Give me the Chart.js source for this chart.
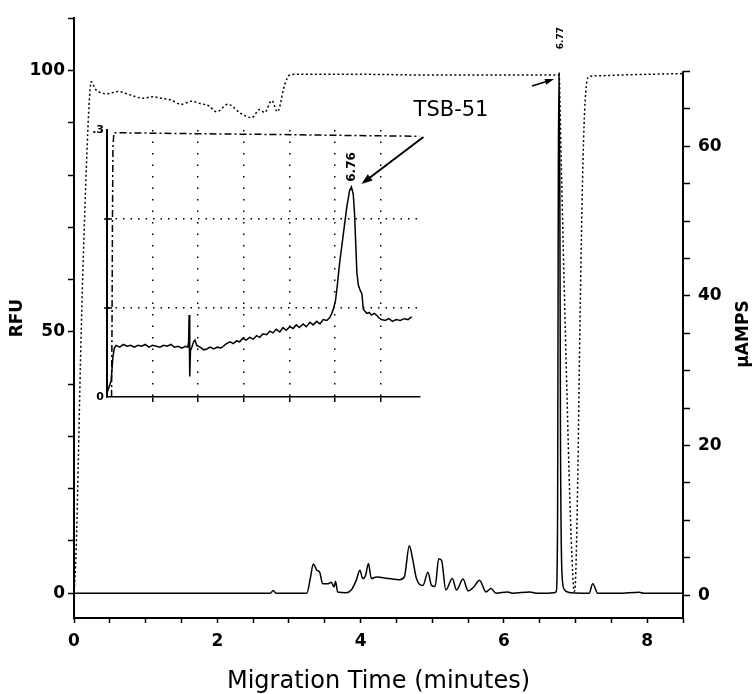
<!DOCTYPE html>
<html>
<head>
<meta charset="utf-8">
<script src="https://cdn.jsdelivr.net/npm/chart.js@4.4.1/dist/chart.umd.min.js"></script>
<style>
  body { margin: 0; background: #fff; }
  #wrap { position: relative; width: 755px; height: 694px; }
  #grafico { position: absolute; left: 0; top: 0; }
  #detalhe { position: absolute; left: 80px; top: 110px; }
</style>
</head>
<body>
<div id="wrap">
  <canvas id="grafico" width="755" height="694"></canvas>
  <canvas id="detalhe" width="350" height="300"></canvas>
</div>
<script>
// fluorescence trace (RFU) vs migration time (min)
const rfuTimes = [
  0, 1.0, 2.0, 2.74, 2.78, 2.82, 3.25, 3.30, 3.34, 3.39,
  3.43, 3.47, 3.54, 3.59, 3.63, 3.65, 3.68, 3.80, 3.87, 3.94,
  3.99, 4.03, 4.07, 4.11, 4.15, 4.22, 4.40, 4.54, 4.61, 4.68,
  4.73, 4.78, 4.87, 4.94, 4.99, 5.04, 5.09, 5.13, 5.19, 5.28,
  5.34, 5.43, 5.50, 5.58, 5.66, 5.75, 5.82, 5.89, 6.05, 6.12,
  6.36, 6.45, 6.59, 6.70, 6.73, 6.75, 6.76, 6.77, 6.78, 6.79,
  6.81, 6.84, 6.90, 7.00, 7.19, 7.24, 7.31, 7.60, 7.89, 7.95,
  8.50
];
const rfuValues = [
  0, 0, 0, 0, 0.5, 0, 0, 3.0, 5.6, 4.4,
  4.0, 1.8, 1.8, 2.1, 1.2, 2.3, 0.25, 0.1, 0.6, 2.5,
  4.4, 2.8, 3.4, 5.7, 2.8, 3.1, 2.8, 2.6, 3.1, 9.1,
  6.3, 2.8, 1.5, 4.0, 1.5, 1.3, 6.6, 6.3, 0.6, 2.8,
  0.6, 2.7, 0.45, 1.2, 2.5, 0.25, 0.9, 0, 0.25, 0,
  0.25, 0, 0, 0.1, 0.3, 15, 80, 99.5, 80, 30,
  4, 0.8, 0.2, 0.05, 0, 1.8, 0, 0, 0.2, 0,
  0
];

// current trace (µAMPS)
const ampTimes = [
  0, 0.03, 0.06, 0.09, 0.12, 0.15, 0.18, 0.21, 0.24, 0.30,
  0.36, 0.45, 0.61, 0.80, 0.96, 1.10, 1.22, 1.34, 1.50, 1.64,
  1.76, 1.88, 1.99, 2.15, 2.31, 2.40, 2.48, 2.59, 2.66, 2.76,
  2.84, 2.94, 3.01, 3.10, 4.00, 5.00, 6.00, 6.77, 6.80, 6.84,
  6.88, 6.92, 6.96, 6.98, 7.00, 7.03, 7.06, 7.09, 7.12, 7.15,
  7.19, 7.30, 7.60, 8.00, 8.50
];
const ampValues = [
  0, 6, 18, 31, 42, 51, 59, 65.5, 68.6, 67.6,
  67.2, 67.0, 67.3, 66.8, 66.4, 66.6, 66.4, 66.2, 65.6, 66.0,
  65.7, 65.4, 64.6, 65.6, 64.5, 64.0, 63.8, 64.9, 64.5, 66.1,
  64.6, 68.2, 69.5, 69.6, 69.6, 69.5, 69.5, 69.5, 58, 42,
  27, 13, 3, 0.5, 2, 15, 35, 52, 63, 68,
  69.3, 69.4, 69.5, 69.6, 69.7
];

// inset: expanded trace around the 6.76 peak
const insetTimes = [
  1.41, 1.45, 1.49, 1.53, 1.56, 1.60, 1.68, 1.76, 1.84, 1.92,
  2.00, 2.08, 2.16, 2.24, 2.32, 2.40, 2.48, 2.56, 2.64, 2.72,
  2.80, 2.88, 2.96, 3.04, 3.12, 3.17, 3.19, 3.20, 3.21, 3.22,
  3.23, 3.26, 3.30, 3.33, 3.37, 3.44, 3.52, 3.59, 3.66, 3.74,
  3.82, 3.90, 3.95, 4.02, 4.10, 4.17, 4.24, 4.31, 4.38, 4.45,
  4.53, 4.61, 4.68, 4.75, 4.82, 4.90, 4.97, 5.04, 5.11, 5.19,
  5.26, 5.33, 5.41, 5.48, 5.55, 5.62, 5.70, 5.77, 5.85, 5.92,
  6.00, 6.07, 6.14, 6.22, 6.28, 6.33, 6.37, 6.41, 6.45, 6.50,
  6.55, 6.60, 6.66, 6.72, 6.76, 6.80, 6.83, 6.86, 6.88, 6.91,
  6.95, 6.99, 7.02, 7.06, 7.10, 7.15, 7.20, 7.26, 7.31, 7.36,
  7.42, 7.50, 7.58, 7.66, 7.74, 7.83, 7.92, 8.00, 8.08
];
const insetValues = [
  0.006, 0.012, 0.018, 0.045, 0.055, 0.058, 0.056, 0.059, 0.057, 0.058,
  0.056, 0.058, 0.057, 0.059, 0.056, 0.058, 0.057, 0.056, 0.058, 0.057,
  0.059, 0.056, 0.057, 0.055, 0.057, 0.056, 0.062, 0.092, 0.050, 0.023,
  0.052, 0.056, 0.062, 0.064, 0.058, 0.056, 0.053, 0.054, 0.056, 0.054,
  0.056, 0.055, 0.057, 0.060, 0.062, 0.060, 0.063, 0.062, 0.066, 0.064,
  0.067, 0.065, 0.069, 0.067, 0.071, 0.070, 0.074, 0.072, 0.076, 0.073,
  0.078, 0.075, 0.079, 0.077, 0.081, 0.078, 0.082, 0.079, 0.084, 0.081,
  0.085, 0.082, 0.087, 0.086, 0.089, 0.094, 0.100, 0.108, 0.125, 0.150,
  0.170, 0.190, 0.214, 0.232, 0.236, 0.228, 0.205, 0.165, 0.140, 0.126,
  0.120, 0.116, 0.099, 0.096, 0.094, 0.095, 0.092, 0.094, 0.092, 0.089,
  0.087, 0.086, 0.088, 0.085, 0.087, 0.086, 0.088, 0.087, 0.090
];
const insetAmpTimes = [1.50, 1.51, 1.52, 1.53, 1.55, 3.00, 5.00, 6.50, 8.26];
const insetAmpValues = [0, 0.08, 0.2, 0.28, 0.297, 0.296, 0.295, 0.294, 0.293];

const labeledMinutes = [0, 2, 4, 6, 8];
const rfuLabels = [0, 50, 100];
const ampLabels = [0, 20, 40, 60];
const insetGridTimes = [2.4, 3.4, 4.4, 5.4, 6.4, 7.4];
const insetLabels = { 0: '0', 0.3: '.3' };

const peakTime = 6.77;
const insetPeakTime = 6.76;

Chart.defaults.font.family = 'DejaVu Sans';
Chart.defaults.color = '#000';

function toPoints(xs, ys) {
    return xs.map((t, i) => ({ x: t, y: ys[i] }));
}

function range(from, to, step) {
    const out = [];
    for (let v = from; v <= to + 1e-9; v += step) out.push({ value: Math.round(v * 100) / 100 });
    return out;
}

function drawArrow(ctx, x0, y0, x1, y1, head, width) {
    const ang = Math.atan2(y1 - y0, x1 - x0);
    ctx.beginPath();
    ctx.moveTo(x0, y0);
    ctx.lineTo(x1 - Math.cos(ang) * head * 0.6, y1 - Math.sin(ang) * head * 0.6);
    ctx.stroke();
    ctx.beginPath();
    ctx.moveTo(x1, y1);
    ctx.lineTo(x1 - Math.cos(ang) * head + Math.sin(ang) * width, y1 - Math.sin(ang) * head - Math.cos(ang) * width);
    ctx.lineTo(x1 - Math.cos(ang) * head - Math.sin(ang) * width, y1 - Math.sin(ang) * head + Math.cos(ang) * width);
    ctx.closePath();
    ctx.fill();
}

const mainNotes = {
    id: 'mainNotes',
    afterDraw(chart) {
        const ctx = chart.ctx;
        const { x, y, y2 } = chart.scales;
        const area = chart.chartArea;
        ctx.save();
        ctx.strokeStyle = '#000';
        ctx.fillStyle = '#000';

        // right axis only runs up to 70
        ctx.lineWidth = 2;
        ctx.beginPath();
        ctx.moveTo(area.right, y2.getPixelForValue(70));
        ctx.lineTo(area.right, area.bottom);
        ctx.stroke();

        ctx.textAlign = 'center';
        ctx.textBaseline = 'middle';

        ctx.save();
        ctx.font = 'bold 17px "DejaVu Sans"';
        ctx.translate(744, 334);
        ctx.rotate(-Math.PI / 2);
        ctx.fillText('µAMPS', 0, 0);
        ctx.restore();

        const px = x.getPixelForValue(peakTime);
        const py = y.getPixelForValue(99.5);

        ctx.save();
        ctx.font = 'bold 9px "DejaVu Sans"';
        ctx.translate(px + 2, py - 35);
        ctx.rotate(-Math.PI / 2);
        ctx.fillText(peakTime.toFixed(2), 0, 0);
        ctx.restore();

        ctx.font = '21px "DejaVu Sans"';
        ctx.fillText('TSB-51', px - 108, py + 37);

        ctx.lineWidth = 1.5;
        drawArrow(ctx, px - 27, py + 13, px - 5, py + 6, 9, 3);
        ctx.restore();
    }
};

new Chart(document.getElementById('grafico'), {
    type: 'line',
    data: {
        datasets: [
            {
                label: 'RFU',
                data: toPoints(rfuTimes, rfuValues),
                yAxisID: 'y',
                borderColor: '#000',
                borderWidth: 1.5,
                pointRadius: 0,
                cubicInterpolationMode: 'monotone'
            },
            {
                label: 'µAMPS',
                data: toPoints(ampTimes, ampValues),
                yAxisID: 'y2',
                borderColor: '#000',
                borderWidth: 1.5,
                borderDash: [2, 2.5],
                pointRadius: 0,
                cubicInterpolationMode: 'monotone'
            }
        ]
    },
    options: {
        responsive: false,
        animation: false,
        events: [],
        layout: { padding: { top: 13 } },
        plugins: { legend: { display: false }, tooltip: { enabled: false } },
        scales: {
            x: {
                type: 'linear',
                min: 0,
                max: 8.5,
                afterBuildTicks: (s) => { s.ticks = range(0, 8.5, 0.5); },
                afterFit: (s) => { s.height = 76; },
                ticks: {
                    padding: 8,
                    maxRotation: 0,
                    autoSkip: false,
                    font: { size: 17, weight: 'bold' },
                    callback: (v) => labeledMinutes.includes(v) ? String(v) : ''
                },
                grid: { drawOnChartArea: false, tickLength: 5, tickWidth: 1.5, tickColor: '#000' },
                border: { color: '#000', width: 2 },
                title: {
                    display: true,
                    text: 'Migration Time (minutes)',
                    font: { size: 24, lineHeight: 1 },
                    padding: { top: 0, bottom: 0 }
                }
            },
            y: {
                position: 'left',
                min: -4.74,
                max: 110,
                afterBuildTicks: (s) => { s.ticks = range(0, 110, 10); },
                afterFit: (s) => { s.width = 74; },
                ticks: {
                    padding: 3,
                    autoSkip: false,
                    font: { size: 17, weight: 'bold' },
                    callback: (v) => rfuLabels.includes(v) ? String(v) : ''
                },
                grid: { drawOnChartArea: false, tickLength: 6, tickWidth: 1.5, tickColor: '#000' },
                border: { color: '#000', width: 2 },
                title: {
                    display: true,
                    text: 'RFU',
                    font: { size: 17, weight: 'bold', lineHeight: 1 },
                    padding: { top: 9, bottom: 0 }
                }
            },
            y2: {
                position: 'right',
                min: -3.05,
                max: 77.1,
                afterBuildTicks: (s) => { s.ticks = range(0, 70, 5); },
                afterFit: (s) => { s.width = 72; },
                ticks: {
                    padding: 8,
                    autoSkip: false,
                    font: { size: 17, weight: 'bold' },
                    callback: (v) => ampLabels.includes(v) ? String(v) : ''
                },
                grid: { drawOnChartArea: false, tickLength: 7, tickWidth: 1.5, tickColor: '#000' },
                border: { display: false }
            }
        }
    },
    plugins: [mainNotes]
});

const insetNotes = {
    id: 'insetNotes',
    afterDraw(chart) {
        const ctx = chart.ctx;
        const { x, y } = chart.scales;
        const ax = chart.chartArea.left;
        ctx.save();
        ctx.strokeStyle = '#000';
        ctx.fillStyle = '#000';
        ctx.lineWidth = 1.5;
        [0.1, 0.2].forEach(v => {
            const ty = y.getPixelForValue(v);
            ctx.beginPath();
            ctx.moveTo(ax - 3, ty);
            ctx.lineTo(ax + 5, ty);
            ctx.stroke();
        });

        const px = x.getPixelForValue(insetPeakTime);
        const py = y.getPixelForValue(0.236);
        ctx.save();
        ctx.font = 'bold 12px "DejaVu Sans"';
        ctx.textAlign = 'center';
        ctx.textBaseline = 'middle';
        ctx.translate(px, py - 20);
        ctx.rotate(-Math.PI / 2);
        ctx.fillText(insetPeakTime.toFixed(2), 0, 0);
        ctx.restore();

        ctx.lineWidth = 2;
        drawArrow(ctx, px + 72, py - 50, px + 10, py - 3, 11, 4);
        ctx.restore();
    }
};

new Chart(document.getElementById('detalhe'), {
    type: 'line',
    data: {
        datasets: [
            {
                data: toPoints(insetTimes, insetValues),
                borderColor: '#000',
                borderWidth: 1.5,
                pointRadius: 0
            },
            {
                data: toPoints(insetAmpTimes, insetAmpValues),
                borderColor: '#000',
                borderWidth: 1.5,
                borderDash: [7, 3, 2, 3],
                pointRadius: 0
            }
        ]
    },
    options: {
        responsive: false,
        animation: false,
        events: [],
        layout: { padding: { top: 20, right: 10 } },
        plugins: { legend: { display: false }, tooltip: { enabled: false } },
        scales: {
            x: {
                type: 'linear',
                min: 1.4,
                max: 8.264,
                afterBuildTicks: (s) => { s.ticks = insetGridTimes.map(v => ({ value: v })); },
                afterFit: (s) => { s.height = 13; },
                ticks: { display: false },
                grid: {
                    color: '#000',
                    lineWidth: 1.5,
                    tickLength: 5,
                    tickColor: '#000',
                    tickBorderDash: []
                },
                border: { color: '#000', width: 1.5, dash: [1.5, 10] }
            },
            y: {
                min: 0,
                max: 0.3,
                afterBuildTicks: (s) => { s.ticks = range(0, 0.3, 0.1); },
                afterFit: (s) => { s.width = 27; },
                ticks: {
                    padding: 3,
                    autoSkip: false,
                    font: { size: 11, weight: 'bold' },
                    callback: (v) => insetLabels[v] || ''
                },
                grid: {
                    drawTicks: false,
                    lineWidth: 1.5,
                    color: (c) => (c.tick && c.tick.value > 0.05 && c.tick.value < 0.25) ? '#000' : 'rgba(0,0,0,0)'
                },
                border: { color: '#000', width: 2, dash: [1.5, 6] }
            }
        }
    },
    plugins: [insetNotes]
});
</script>
</body>
</html>
